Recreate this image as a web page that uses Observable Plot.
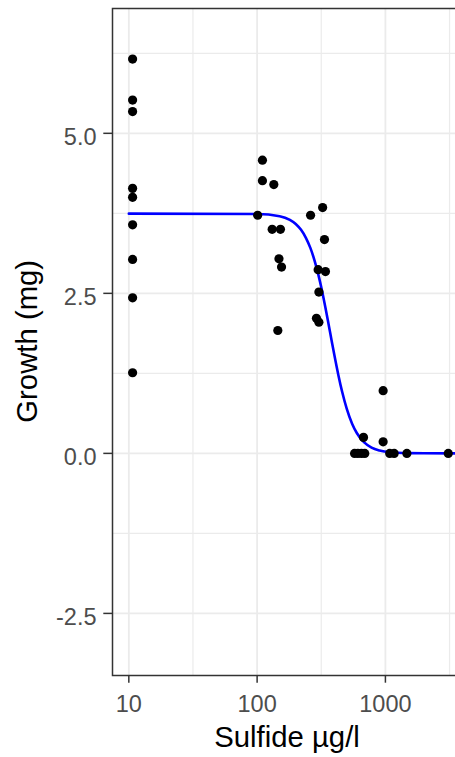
<!DOCTYPE html>
<html><head><meta charset="utf-8">
<script src="https://cdn.jsdelivr.net/npm/d3@7"></script>
<script src="https://cdn.jsdelivr.net/npm/@observablehq/plot@0.6"></script>
<style>html,body{margin:0;padding:0;background:#fff;overflow:hidden}</style>
</head><body><div id="chart"></div>
<script>
// Observed points (Sulfide µg/l, Growth mg)
const sulfide = [10.7,10.7,10.7,10.7,10.7,10.7,10.7,10.7,10.7,
  110,110,135,101,131,152,148,155,145,
  261,324,335,299,341,303,290,303,
  675,575,610,650,690,960,960,1080,1170,1470,3090];
const growth = [6.16,5.52,5.34,4.14,4.00,3.57,3.03,2.43,1.26,
  4.58,4.26,4.20,3.72,3.50,3.50,3.04,2.91,1.92,
  3.72,3.84,3.34,2.87,2.84,2.52,2.11,2.05,
  0.25,0,0,0,0,0.98,0.18,0,0,0,0];
// Fitted curve
const curveSulfide = [10,100,150,180,200,220,240,260,280,300,320,340,360,380,400,430,460,500,550,600,680,780,900,1100,1500,2000,3500];
const curveGrowth = [3.745,3.74,3.706,3.648,3.584,3.492,3.368,3.21,3.016,2.793,2.548,2.286,2.025,1.773,1.536,1.222,0.962,0.695,0.464,0.314,0.175,0.09,0.045,0.017,0.004,0.001,0];
const xTicks = [10,100,1000];
const xMinor = [31.62,316.2,3162];
const yTicks = [-2.5,0,2.5,5];
const yMinor = [-1.25,1.25,3.75,6.25];
const xDomain = [7.46,4210];
const yDomain = [-3.47,6.95];
const xTitle = "Sulfide µg/l";
const yTitle = "Growth (mg)";

const points = sulfide.map((s,i)=>({s, g: growth[i]}));
const curve = curveSulfide.map((s,i)=>({s, g: curveGrowth[i]}));

const font = "Liberation Sans, Arial, sans-serif";
const chart = Plot.plot({
  width: 455, height: 757,
  marginLeft: 112, marginTop: 8, marginBottom: 82, marginRight: -10,
  style: {fontFamily: font, background: "#fff", overflow: "hidden"},
  x: {type: "log", domain: xDomain},
  y: {domain: yDomain},
  marks: [
    Plot.ruleX(xMinor, {stroke: "#EBEBEB", strokeWidth: 1.2}),
    Plot.ruleY(yMinor, {stroke: "#EBEBEB", strokeWidth: 1.2}),
    Plot.ruleX(xTicks, {stroke: "#EBEBEB", strokeWidth: 1.8}),
    Plot.ruleY(yTicks, {stroke: "#EBEBEB", strokeWidth: 1.8}),
    Plot.line(curve, {x: "s", y: "g", stroke: "#0000FF", strokeWidth: 2.6, curve: "monotone-x"}),
    Plot.dot(points, {x: "s", y: "g", fill: "black", r: 4.6}),
    Plot.frame({stroke: "#333333", strokeWidth: 1.5}),
    Plot.axisX({ticks: xTicks, tickFormat: d => String(d), tickSize: 7.7, tickPadding: 12.3, stroke: "#333333", strokeWidth: 1.5, fill: "#4D4D4D", fontSize: 23.5, label: null}),
    Plot.axisY({ticks: yTicks, tickFormat: () => "", tickSize: 8.7, stroke: "#333333", strokeWidth: 1.5, label: null}),
    Plot.axisY({ticks: yTicks, tickFormat: d => d.toFixed(1), tickSize: 0, tickPadding: 16, stroke: "none", fill: "#4D4D4D", fontSize: 23.5, dy: 4, label: null}),
    Plot.text([xTitle], {text: d => d, frameAnchor: "bottom", dx: -2, dy: 71.7, lineAnchor: "bottom", fontSize: 29.3, fill: "black"}),
    Plot.text([yTitle], {text: d => d, frameAnchor: "left", rotate: -90, dx: -75.3, dy: -0.7, lineAnchor: "bottom", textAnchor: "middle", fontSize: 29.3, fill: "black"})
  ]
});
document.getElementById("chart").appendChild(chart);
</script>
</body></html>
